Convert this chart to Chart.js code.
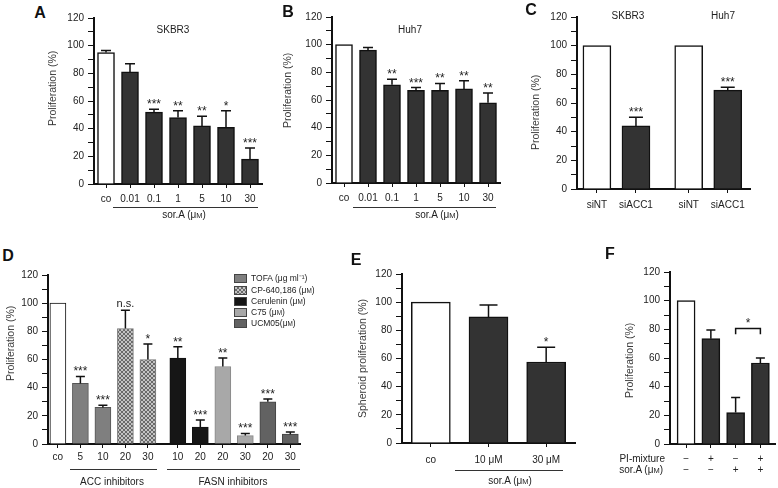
<!DOCTYPE html>
<html><head><meta charset="utf-8">
<script src="https://cdn.jsdelivr.net/npm/chart.js@4.4.1/dist/chart.umd.min.js"></script>
<style>
html,body{margin:0;padding:0;background:#fff;}
#root{position:relative;width:778px;height:488px;overflow:hidden;font-family:"Liberation Sans",Arial,Helvetica,sans-serif;color:#222;}
canvas{position:absolute;}
.t{position:absolute;white-space:nowrap;transform:translate(-50%,-50%);line-height:1;font-size:10px;}
.r{position:absolute;white-space:nowrap;transform:translate(-100%,-50%);line-height:1;font-size:10px;}
.l{position:absolute;white-space:nowrap;transform:translate(0,-50%);line-height:1;font-size:8.5px;}
.letter{font-weight:bold;font-size:16px;color:#111;}
.yt{position:absolute;white-space:nowrap;font-size:10.5px;line-height:12px;height:12px;font-weight:normal;color:#3a3a3a;text-align:left;transform-origin:50% 50%;}
.line{position:absolute;height:1px;background:#333;}
.box{position:absolute;width:13px;height:9px;box-sizing:border-box;border:1px solid #444;}
.sc{font-size:0.75em;}
</style></head><body><div id="root"></div>
<script>
// ---------- data ----------
const yTickLabels = [0,20,40,60,80,100,120];

const catsA = ['co','0.01','0.1','1','5','10','30'];
const valsA = [95,81,52,48,42,41,18];
const errA  = [1.5,6,2,5,7,12,8];
const starsA = ['','','***','**','**','*','***'];

const catsB = ['co','0.01','0.1','1','5','10','30'];
const valsB = [100,96,71,67,67,68,58];
const errB  = [0,2,4,2,5,6,7];
const starsB = ['','','**','***','**','**','**'];

const catsC = ['siNT','siACC1','siNT','siACC1'];
const posC  = [0,1,2.35,3.35];
const valsC = [100,44,100,69];
const errC  = [0,6,0,2];
const starsC = ['','***','','***'];

const catsD = ['co','5','10','20','30','10','20','20','30','20','30'];
const posD  = [0,1,2,3,4,5.33,6.33,7.33,8.33,9.33,10.33];
const valsD = [100,43,26,82,60,61,12,55,6,30,7];
const errD  = [0,5,1.5,13,11,8,5,6,1.5,2,1.5];
const starsD = ['','***','***','n.s.','*','**','***','**','***','***','***'];
const groupD = ['co','TOFA','TOFA','CP','CP','Cer','Cer','C75','C75','UCM','UCM'];
const legendD = ['TOFA (μg ml⁻¹)','CP-640,186 (μM)','Cerulenin (μM)','C75 (μM)','UCM05(μM)'];

const catsE = ['co','10 μM','30 μM'];
const valsE = [100,89.5,57.5];
const errE  = [0,8.5,10.5];
const starsE = ['','','*'];

const posF  = [0,1,2,3];
const piMix = ['−','+','−','+'];
const sorF  = ['−','−','+','+'];
const valsF = [100,73.5,22,56.5];
const errF  = [0,6,10.5,3.5];
const bracketF = {from:2,to:3,top:80.5,end:76.5,label:'*'};

// ---------- helpers ----------
const FONT = '"Liberation Sans", Arial, Helvetica, sans-serif';
const root = document.getElementById('root');
const DARK = '#333333';
const INK = '#111111';

function html(cls, txt, x, y, extra){
  const d = document.createElement('div');
  d.className = cls;
  d.innerHTML = txt.replace(/μM/g,'μ<span class="sc">M</span>');
  d.style.left = x+'px'; d.style.top = y+'px';
  if(extra) Object.assign(d.style, extra);
  root.appendChild(d); return d;
}
function ytitle(txt, cx, cy){
  const d = document.createElement('div');
  d.className = 'yt'; d.textContent = txt;
  root.appendChild(d);
  const w = Math.ceil(d.getBoundingClientRect().width/2)*2;
  d.style.width = w+'px';
  d.style.left = (cx - w/2)+'px';
  d.style.top = (cy - 6)+'px';
  d.style.transform = 'rotate(-90deg)';
}
function hline(x1,x2,y){
  const d=document.createElement('div'); d.className='line';
  d.style.left=x1+'px'; d.style.top=y+'px'; d.style.width=(x2-x1)+'px';
  root.appendChild(d);
}

function errPlugin(vals, err, ann, cap, bracket){
  return {
    id:'errbars',
    afterDatasetsDraw(chart){
      const ctx = chart.ctx, meta = chart.getDatasetMeta(0), ys = chart.scales.y;
      ctx.save();
      meta.data.forEach((bar,i)=>{
        const e = err[i]||0;
        const yTop = ys.getPixelForValue(vals[i]+e);
        if(e>0){
          ctx.strokeStyle=INK; ctx.lineWidth=1.5;
          ctx.beginPath();
          ctx.moveTo(bar.x, bar.y); ctx.lineTo(bar.x, yTop);
          ctx.moveTo(bar.x-cap/2, yTop); ctx.lineTo(bar.x+cap/2, yTop);
          ctx.stroke();
        }
        const a = ann[i];
        if(a){
          ctx.fillStyle='#222'; ctx.textAlign='center'; ctx.textBaseline='alphabetic';
          if(a==='n.s.'){ ctx.font='11px '+FONT; ctx.fillText(a, bar.x, yTop-3); }
          else { ctx.font='12px '+FONT; ctx.fillText(a, bar.x, yTop-1); }
        }
      });
      if(bracket){
        const b1 = meta.data[bracket.from], b2 = meta.data[bracket.to];
        const yt = ys.getPixelForValue(bracket.top), ye = ys.getPixelForValue(bracket.end);
        ctx.strokeStyle=INK; ctx.lineWidth=1.5;
        ctx.beginPath();
        ctx.moveTo(b1.x, ye); ctx.lineTo(b1.x, yt); ctx.lineTo(b2.x, yt); ctx.lineTo(b2.x, ye);
        ctx.stroke();
        ctx.fillStyle='#222'; ctx.font='12px '+FONT; ctx.textAlign='center';
        ctx.fillText(bracket.label, (b1.x+b2.x)/2, yt-2);
      }
      ctx.restore();
    }
  };
}

function yScaleCfg(wy){
  return {
    min:0, max:120,
    afterFit(s){ s.width = wy; },
    ticks:{ stepSize:10, autoSkip:false, padding:4, color:'#222', font:{size:10,family:FONT},
      callback:v => yTickLabels.includes(v) ? String(v) : '' },
    grid:{ display:true, drawOnChartArea:false, drawTicks:true, tickLength:6, color:INK, lineWidth:1 },
    border:{ display:true, width:2, color:INK }
  };
}
function xCommon(hx, tickLen, pad){
  return {
    afterFit(s){ s.height = hx; },
    ticks:{ autoSkip:false, maxRotation:0, minRotation:0, padding:pad, color:'#222', font:{size:10,family:FONT, lineHeight:1.1} },
    grid:{ display:true, drawOnChartArea:false, drawTicks:true, tickLength:tickLen, offset:false, color:INK, lineWidth:1 },
    border:{ display:true, width:2, color:INK }
  };
}

function panel(g, data, xCfg, plugin){
  const wy = 45, padTop = 10;
  const left = g.axisX - wy, top = g.top - padTop;
  const c = document.createElement('canvas');
  const w = g.right - left + g.padR, h = g.bottom - top + g.hx;
  c.width = w; c.height = h;
  c.style.left = left+'px'; c.style.top = top+'px';
  c.style.width = w+'px'; c.style.height = h+'px';
  root.appendChild(c);
  return new Chart(c.getContext('2d'), {
    type:'bar',
    data,
    options:{
      responsive:false, animation:false, maintainAspectRatio:false,
      layout:{ padding:{top:padTop, right:g.padR, left:0, bottom:0} },
      plugins:{ legend:{display:false}, tooltip:{enabled:false} },
      scales:{ x:xCfg, y:yScaleCfg(wy) }
    },
    plugins:[plugin]
  });
}

function linearX(hx, pad, pos, labels, min, max){
  const x = xCommon(hx, 4, pad);
  x.type = 'linear'; x.min = min; x.max = max; x.offset = false;
  x.afterBuildTicks = s => { s.ticks = pos.map(v => ({value:v})); };
  x.ticks.callback = (v,i) => labels[i];
  return x;
}
function catX(hx, pad){
  const x = xCommon(hx, 4, pad);
  x.type = 'category'; x.offset = true;
  return x;
}

Chart.defaults.font.family = FONT;

// ---------- Panel A ----------
panel({axisX:94,right:262,top:18,bottom:184,hx:40,padR:8},
  {labels:catsA, datasets:[{data:valsA, barThickness:17,
    backgroundColor:valsA.map((v,i)=>i===0?'#ffffff':DARK), borderColor:INK, borderWidth:1.5}]},
  catX(40, 6), errPlugin(valsA, errA, starsA, 10));

// ---------- Panel B ----------
panel({axisX:332,right:500,top:17,bottom:183,hx:40,padR:8},
  {labels:catsB, datasets:[{data:valsB, barThickness:17,
    backgroundColor:valsB.map((v,i)=>i===0?'#ffffff':DARK), borderColor:INK, borderWidth:1.5}]},
  catX(40, 6), errPlugin(valsB, errB, starsB, 10));

// ---------- Panel C ----------
panel({axisX:577,right:750,top:17,bottom:189,hx:30,padR:10},
  {datasets:[{data:posC.map((p,i)=>({x:p,y:valsC[i]})), barThickness:28,
    backgroundColor:catsC.map(c=>c==='siNT'?'#ffffff':DARK), borderColor:INK, borderWidth:1.5}]},
  linearX(30, 7, posC, catsC, -0.51, 3.92), errPlugin(valsC, errC, starsC, 14));

// ---------- Panel D ----------
const pc = document.createElement('canvas'); pc.width=4; pc.height=4;
const pctx = pc.getContext('2d');
pctx.fillStyle='#c4c4c4'; pctx.fillRect(0,0,4,4);
pctx.fillStyle='#6a6a6a'; pctx.fillRect(0,0,2,2); pctx.fillRect(2,2,2,2);
const checker = pctx.createPattern(pc,'repeat');
const colD = {co:'#ffffff', TOFA:'#7f7f7f', CP:checker, Cer:'#161616', C75:'#a8a8a8', UCM:'#626262'};
const borderD = {co:INK, TOFA:'#555', CP:'#777', Cer:INK, C75:'#888', UCM:'#444'};
panel({axisX:48,right:300,top:275,bottom:444,hx:44,padR:6},
  {datasets:[{data:posD.map((p,i)=>({x:p,y:valsD[i]})), barThickness:16,
    backgroundColor:groupD.map(g=>colD[g]), borderColor:groupD.map(g=>borderD[g]), borderWidth:1}]},
  linearX(44, 4, posD, catsD, -0.44, 10.76), errPlugin(valsD, errD, starsD, 9));

// ---------- Panel E ----------
panel({axisX:402,right:575,top:274,bottom:443,hx:45,padR:6},
  {labels:catsE, datasets:[{data:valsE, barThickness:39,
    backgroundColor:valsE.map((v,i)=>i===0?'#ffffff':DARK), borderColor:INK, borderWidth:1.5}]},
  catX(45, 8), errPlugin(valsE, errE, starsE, 18));

// ---------- Panel F ----------
panel({axisX:670,right:775,top:272,bottom:444,hx:44,padR:3},
  {datasets:[{data:posF.map((p,i)=>({x:p,y:valsF[i]})), barThickness:18,
    backgroundColor:valsF.map((v,i)=>i===0?'#ffffff':DARK), borderColor:INK, borderWidth:1.5}]},
  linearX(44, 6, posF, posF.map((p,i)=>[piMix[i], sorF[i]]), -0.65, 3.59),
  errPlugin(valsF, errF, ['','','',''], 9, bracketF));

// ---------- text overlays ----------
html('t letter','A',40,13); html('t letter','B',288,12); html('t letter','C',531,10);
html('t letter','D',8,256); html('t letter','E',356,260); html('t letter','F',610,254);

html('t','SKBR3',173,30); html('t','Huh7',410,30);
html('t','SKBR3',628,16); html('t','Huh7',723,16);

ytitle('Proliferation (%)',52,88);
ytitle('Proliferation (%)',287,90);
ytitle('Proliferation (%)',535,112);
ytitle('Proliferation (%)',10,343);
ytitle('Spheroid proliferation (%)',362,358);
ytitle('Proliferation (%)',629,360);

hline(113,258,207); html('t','sor.A (μM)',184,215);
hline(353,496,207); html('t','sor.A (μM)',437,215);
hline(70,157,469); html('t','ACC inhibitors',112,482);
hline(167,300,469); html('t','FASN inhibitors',233,482);
hline(455,563,470); html('t','sor.A (μM)',510,481);
html('r','PI-mixture',665,459); html('r','sor.A (μM)',663,470);

// legend D
const legCols = ['#7f7f7f', null, '#161616', '#a8a8a8', '#626262'];
const legY = [278,290,301,312,323];
legendD.forEach((t,i)=>{
  const b = document.createElement('div'); b.className='box';
  b.style.left='234px'; b.style.top=(legY[i]-4.5)+'px';
  if(legCols[i]) b.style.background = legCols[i];
  else b.style.background = 'repeating-conic-gradient(#6a6a6a 0 25%, #c4c4c4 0 50%) 0 0/4px 4px';
  root.appendChild(b);
  html('l', t, 251, legY[i]);
});
</script></body></html>
